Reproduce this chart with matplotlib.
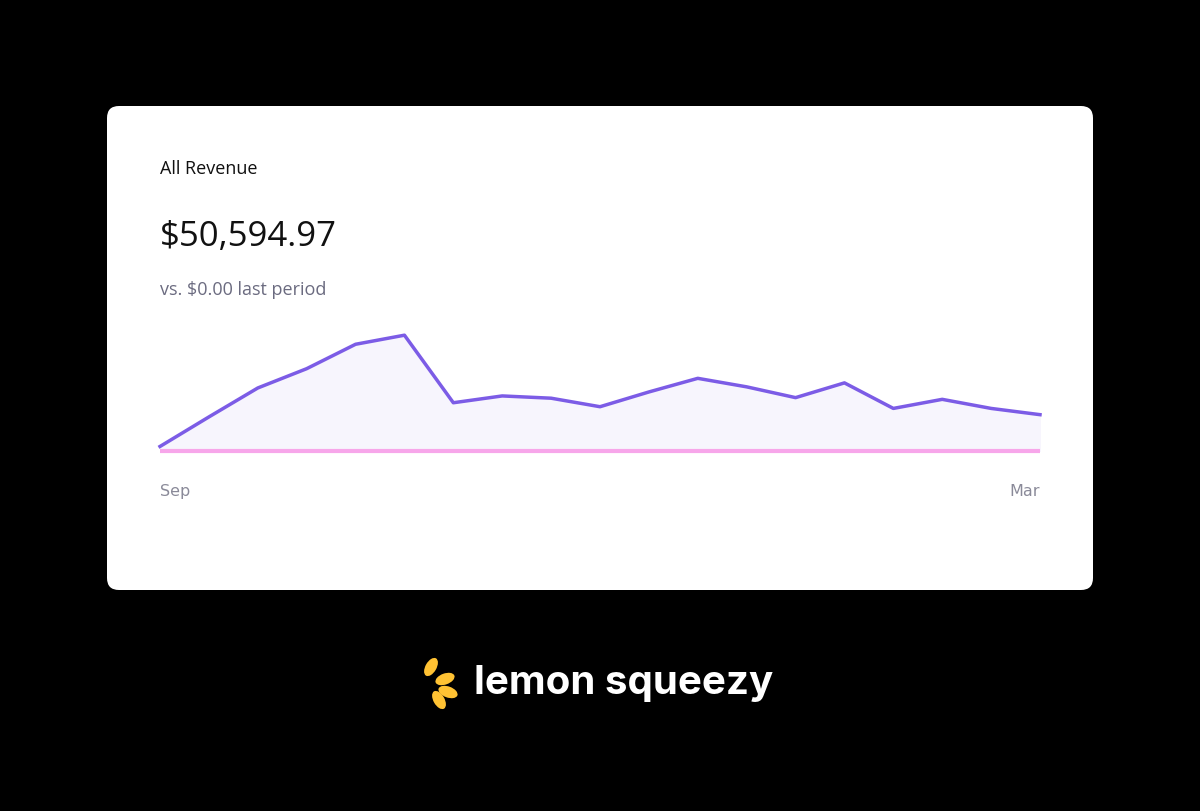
import matplotlib.pyplot as plt
from matplotlib.patches import FancyBboxPatch, Ellipse

W, H = 1200, 812

# Revenue series (relative units), Sep .. Mar
revenue = [8, 60, 111, 145, 188, 204, 85, 97, 93, 78, 104, 128, 113, 94, 120, 75, 91, 75, 64]
baseline = [0] * len(revenue)
tick_labels = ["Sep", "Mar"]

fig = plt.figure(figsize=(W / 100, H / 100), dpi=100, facecolor="black")

# white card
bg = fig.add_axes([0, 0, 1, 1])
bg.set_xlim(0, W)
bg.set_ylim(H, 0)
bg.axis("off")
bg.add_patch(FancyBboxPatch((107, 107), 986, 484, boxstyle="round,pad=0,rounding_size=12",
                            fc="white", ec="none"))
bg.text(160, 169, "All Revenue", fontsize=13, color="#111111", va="center", family="Open Sans")
bg.text(160, 237, "$50,594.97", fontsize=25, color="#111111", va="center", family="Open Sans")
bg.text(160, 290, "vs. $0.00 last period", fontsize=13, color="#6b6b80", va="center", family="Open Sans")
bg.text(160, 492, tick_labels[0], fontsize=11.5, color="#8a8a99", va="center", ha="left")
bg.text(1040, 492, tick_labels[1], fontsize=11.5, color="#8a8a99", va="center", ha="right")

# logo
for ang, dx, dy in [(60, 431, 668), (20, 445, 680), (-20, 448, 693), (-60, 439, 701)]:
    bg.add_patch(Ellipse((dx, dy), 20, 11, angle=-ang, fc="#ffc233", ec="none"))
bg.text(474, 684, "lemon squeezy", fontsize=29, color="white", fontweight="bold",
        va="center", family="Inter")

# chart
ax = fig.add_axes([160 / W, (H - 452) / H, 880 / W, 130 / H])
x = list(range(len(revenue)))
ax.fill_between(x, revenue, color="#f7f5fd")
ax.plot(x, baseline, color="#f7a6ea", lw=3, clip_on=False, solid_capstyle="butt")
ax.plot(x, revenue, color="#7c5ce6", lw=2.5, clip_on=False, solid_joinstyle="round")
ax.set_xlim(0, len(revenue) - 1)
ax.set_ylim(0, 229)
ax.axis("off")

fig.savefig("out.png", dpi=100, facecolor="black")
